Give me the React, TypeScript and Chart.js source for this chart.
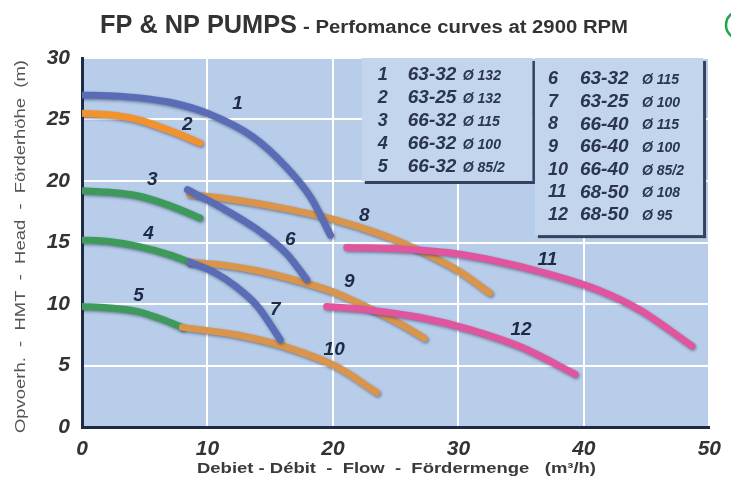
import React, { useEffect, useRef } from "react";
import { Chart, registerables } from "chart.js";

Chart.register(...registerables);

// ---------- DATA ----------
const TITLE_MAIN = "FP & NP PUMPS";
const TITLE_SUB = "- Perfomance curves at 2900 RPM";
const X_TITLE = "Debiet - Débit  -  Flow  -  Fördermenge   (m³/h)";
const Y_TITLE = "Opvoerh.  -  HMT  -  Head  -  Förderhöhe  (m)";

const X_MIN = 0, X_MAX = 50, X_STEP = 10;
const Y_MIN = 0, Y_MAX = 30, Y_STEP = 5;

// flow (m3/h) / head (m) for each curve
const C1_X = [0, 3, 7, 10, 13.6, 16.3, 18.2, 19.8];
const C1_Y = [27.0, 26.9, 26.4, 25.5, 23.6, 21.1, 18.7, 15.6];
const C2_X = [0, 2, 4.4, 7, 9.4];
const C2_Y = [25.5, 25.4, 25.0, 24.1, 23.1];
const C3_X = [0, 2, 4.4, 7, 9.4];
const C3_Y = [19.2, 19.1, 18.8, 18.0, 17.0];
const C4_X = [0, 2, 4.4, 7, 8.6];
const C4_Y = [15.2, 15.1, 14.7, 14.0, 13.4];
const C5_X = [0, 2, 4.4, 6, 8];
const C5_Y = [9.8, 9.7, 9.4, 8.9, 8.1];
const C6_X = [8.4, 11, 13.9, 16.3, 17.9];
const C6_Y = [19.3, 17.9, 16.1, 14.1, 12.0];
const C7_X = [8.6, 10.5, 12.3, 14, 15.8];
const C7_Y = [13.4, 12.6, 11.4, 9.8, 7.1];
const C8_X = [8.6, 12, 16, 20, 24, 27, 30, 32.5];
const C8_Y = [18.9, 18.5, 17.8, 16.9, 15.6, 14.3, 12.7, 10.9];
const C9_X = [8.6, 11, 14, 17.5, 20, 22.8, 25.5, 27.3];
const C9_Y = [13.4, 13.2, 12.7, 11.8, 11.0, 9.7, 8.3, 7.2];
const C10_X = [8, 12.3, 16.3, 20.3, 23.5];
const C10_Y = [8.1, 7.5, 6.5, 4.9, 2.8];
const C11_X = [21.1, 25, 29, 33, 37, 41, 44.5, 48.6];
const C11_Y = [14.6, 14.5, 14.2, 13.5, 12.5, 11.2, 9.5, 6.6];
const C12_X = [19.5, 23, 27, 31, 35, 39.3];
const C12_Y = [9.8, 9.5, 8.9, 7.9, 6.5, 4.3];

// curve number labels (data coordinates)
const LABEL_TEXT = ["1", "2", "3", "4", "5", "6", "7", "8", "9", "10", "11", "12"];
const LABEL_X = [12.4, 8.4, 5.6, 5.3, 4.5, 16.6, 15.4, 22.5, 21.3, 20.1, 37.1, 35.0];
const LABEL_Y = [26.3, 24.6, 20.1, 15.7, 10.7, 15.2, 9.5, 17.2, 11.8, 6.3, 13.6, 7.9];

// legend table
const LEGEND_NUMS = ["1", "2", "3", "4", "5", "6", "7", "8", "9", "10", "11", "12"];
const LEGEND_MODELS = ["63-32", "63-25", "66-32", "66-32", "66-32", "63-32", "63-25", "66-40", "66-40", "66-40", "68-50", "68-50"];
const LEGEND_DIAMETERS = ["Ø 132", "Ø 132", "Ø 115", "Ø 100", "Ø 85/2", "Ø 115", "Ø 100", "Ø 115", "Ø 100", "Ø 85/2", "Ø 108", "Ø 95"];
// legend boxes in data coordinates [xFrom, xTo, yTop, yBottom]
const BOX1 = [22.3, 35.9, 30, 20.0];
const BOX2 = [36.1, 49.5, 30, 15.6];

// ---------- STYLE ----------
const FONT = "'Liberation Sans', Arial, sans-serif";
const BLUE = "#5a6cb6";
const ORANGE = "#f2922e";
const TAN = "#d9954c";
const GREEN = "#3d9a5a";
const PINK = "#e0559e";

const zip = (xs: number[], ys: number[]) => xs.map((x, i) => ({ x, y: ys[i] }));

const CURVES: { xs: number[]; ys: number[]; color: string }[] = [
  { xs: C11_X, ys: C11_Y, color: PINK },
  { xs: C12_X, ys: C12_Y, color: PINK },
  { xs: C1_X, ys: C1_Y, color: BLUE },
  { xs: C2_X, ys: C2_Y, color: ORANGE },
  { xs: C3_X, ys: C3_Y, color: GREEN },
  { xs: C6_X, ys: C6_Y, color: BLUE },
  { xs: C7_X, ys: C7_Y, color: BLUE },
  { xs: C8_X, ys: C8_Y, color: TAN },
  { xs: C9_X, ys: C9_Y, color: TAN },
  { xs: C10_X, ys: C10_Y, color: TAN },
  { xs: C4_X, ys: C4_Y, color: GREEN },
  { xs: C5_X, ys: C5_Y, color: GREEN },
];

function fitText(ctx: CanvasRenderingContext2D, text: string, x: number, y: number, width: number) {
  const w = ctx.measureText(text).width;
  ctx.save();
  ctx.translate(x, y);
  ctx.scale(width / w, 1);
  ctx.textAlign = "left";
  ctx.fillText(text, 0, 0);
  ctx.restore();
}

const decorPlugin = {
  id: "decor",
  beforeDraw(chart: any) {
    const { ctx, chartArea: a } = chart;
    ctx.save();
    ctx.fillStyle = "#ffffff";
    ctx.fillRect(0, 0, chart.width, chart.height);
    ctx.fillStyle = "#b7cdea";
    ctx.fillRect(a.left, a.top, a.right - a.left, a.bottom - a.top);
    ctx.restore();
  },
  beforeDatasetsDraw(chart: any) {
    const { ctx } = chart;
    const xs = chart.scales.x, ys = chart.scales.y;
    const boxes = [
      { b: BOX1, from: 0, to: 5, rowOff: 17, rowStep: 23, numOff: 16, modelOff: 46, diaOff: 101 },
      { b: BOX2, from: 5, to: 12, rowOff: 21, rowStep: 22.7, numOff: 13, modelOff: 45, diaOff: 107 },
    ];
    ctx.save();
    for (const bx of boxes) {
      const l = xs.getPixelForValue(bx.b[0]);
      const r = xs.getPixelForValue(bx.b[1]);
      const t = ys.getPixelForValue(bx.b[2]);
      const btm = ys.getPixelForValue(bx.b[3]);
      ctx.fillStyle = "#c3d5ed";
      ctx.fillRect(l, t, r - l, btm - t);
      ctx.fillStyle = "#34425e";
      ctx.fillRect(l + 3, btm, r - l, 3);
      ctx.fillRect(r, t + 3, 3, btm - t);
      ctx.fillStyle = "#2b3550";
      ctx.textBaseline = "middle";
      ctx.textAlign = "left";
      for (let i = bx.from; i < bx.to; i++) {
        const cy = t + bx.rowOff + bx.rowStep * (i - bx.from);
        ctx.font = `italic bold 18px ${FONT}`;
        ctx.fillText(LEGEND_NUMS[i], l + bx.numOff, cy);
        ctx.font = `italic bold 19px ${FONT}`;
        ctx.fillText(LEGEND_MODELS[i], l + bx.modelOff, cy);
        ctx.font = `italic bold 14px ${FONT}`;
        ctx.fillText(LEGEND_DIAMETERS[i], l + bx.diaOff, cy + 1);
      }
    }
    ctx.restore();
  },
  beforeDatasetDraw(chart: any) {
    const ctx = chart.ctx;
    ctx.save();
    ctx.shadowColor = "rgba(20,30,60,0.45)";
    ctx.shadowBlur = 3;
    ctx.shadowOffsetX = 1;
    ctx.shadowOffsetY = 1.5;
  },
  afterDatasetDraw(chart: any) {
    chart.ctx.restore();
  },
  afterDatasetsDraw(chart: any) {
    const { ctx } = chart;
    const xs = chart.scales.x, ys = chart.scales.y;
    ctx.save();
    ctx.fillStyle = "#1f2a44";
    ctx.font = `italic bold 19px ${FONT}`;
    ctx.textAlign = "center";
    ctx.textBaseline = "middle";
    LABEL_TEXT.forEach((t, i) => {
      ctx.fillText(t, xs.getPixelForValue(LABEL_X[i]), ys.getPixelForValue(LABEL_Y[i]));
    });
    ctx.restore();
  },
  afterDraw(chart: any) {
    const { ctx } = chart;
    ctx.save();
    ctx.fillStyle = "#333333";
    ctx.textBaseline = "alphabetic";
    ctx.font = `bold 25px ${FONT}`;
    fitText(ctx, TITLE_MAIN, 100, 33, 197);
    ctx.font = `bold 18px ${FONT}`;
    fitText(ctx, TITLE_SUB, 303, 33, 325);
    ctx.fillStyle = "#3a3a3a";
    ctx.textBaseline = "middle";
    ctx.font = `bold 15px ${FONT}`;
    fitText(ctx, X_TITLE, 197, 469, 399);
    ctx.save();
    ctx.translate(21, 433);
    ctx.rotate(-Math.PI / 2);
    ctx.fillStyle = "#555555";
    ctx.font = `15px ${FONT}`;
    fitText(ctx, Y_TITLE, 0, 0, 373);
    ctx.restore();
    ctx.strokeStyle = "#1aa64a";
    ctx.lineWidth = 2.5;
    ctx.beginPath();
    ctx.arc(740, 25, 14, 0, Math.PI * 2);
    ctx.stroke();
    ctx.restore();
  },
};

export default function App() {
  const ref = useRef<HTMLCanvasElement | null>(null);
  useEffect(() => {
    document.body.style.margin = "0";
    const canvas = ref.current!;
    const tickFont = { family: FONT, size: 21, weight: "bold" as const, style: "italic" as const };
    const chart = new Chart(canvas, {
      type: "scatter",
      data: {
        datasets: CURVES.map((c) => ({
          data: zip(c.xs, c.ys),
          showLine: true,
          borderColor: c.color,
          backgroundColor: c.color,
          borderWidth: 7,
          borderCapStyle: "round" as const,
          borderJoinStyle: "round" as const,
          pointRadius: 0,
          pointHoverRadius: 0,
          cubicInterpolationMode: "monotone" as const,
          fill: false,
        })),
      },
      options: {
        animation: false,
        responsive: false,
        events: [],
        layout: { padding: { top: 58, right: 21, left: 0, bottom: 0 } },
        plugins: { legend: { display: false }, tooltip: { enabled: false }, title: { display: false } },
        scales: {
          x: {
            type: "linear",
            min: X_MIN,
            max: X_MAX,
            ticks: { stepSize: X_STEP, font: tickFont, color: "#333", padding: 10 },
            grid: { color: "#ffffff", lineWidth: 2, drawTicks: false },
            border: { color: "#1d2b45", width: 3 },
            afterFit: (s: any) => { s.height = 57; },
          },
          y: {
            type: "linear",
            min: Y_MIN,
            max: Y_MAX,
            ticks: { stepSize: Y_STEP, font: tickFont, color: "#333", padding: 12 },
            grid: { color: "#ffffff", lineWidth: 2, drawTicks: false },
            border: { color: "#1d2b45", width: 3 },
            afterFit: (s: any) => { s.width = 82; },
          },
        },
      },
      plugins: [decorPlugin],
    });
    return () => chart.destroy();
  }, []);
  return (
    <div style={{ position: "absolute", left: 0, top: 0, width: 731, height: 484 }}>
      <canvas ref={ref} width={731} height={484} />
    </div>
  );
}
